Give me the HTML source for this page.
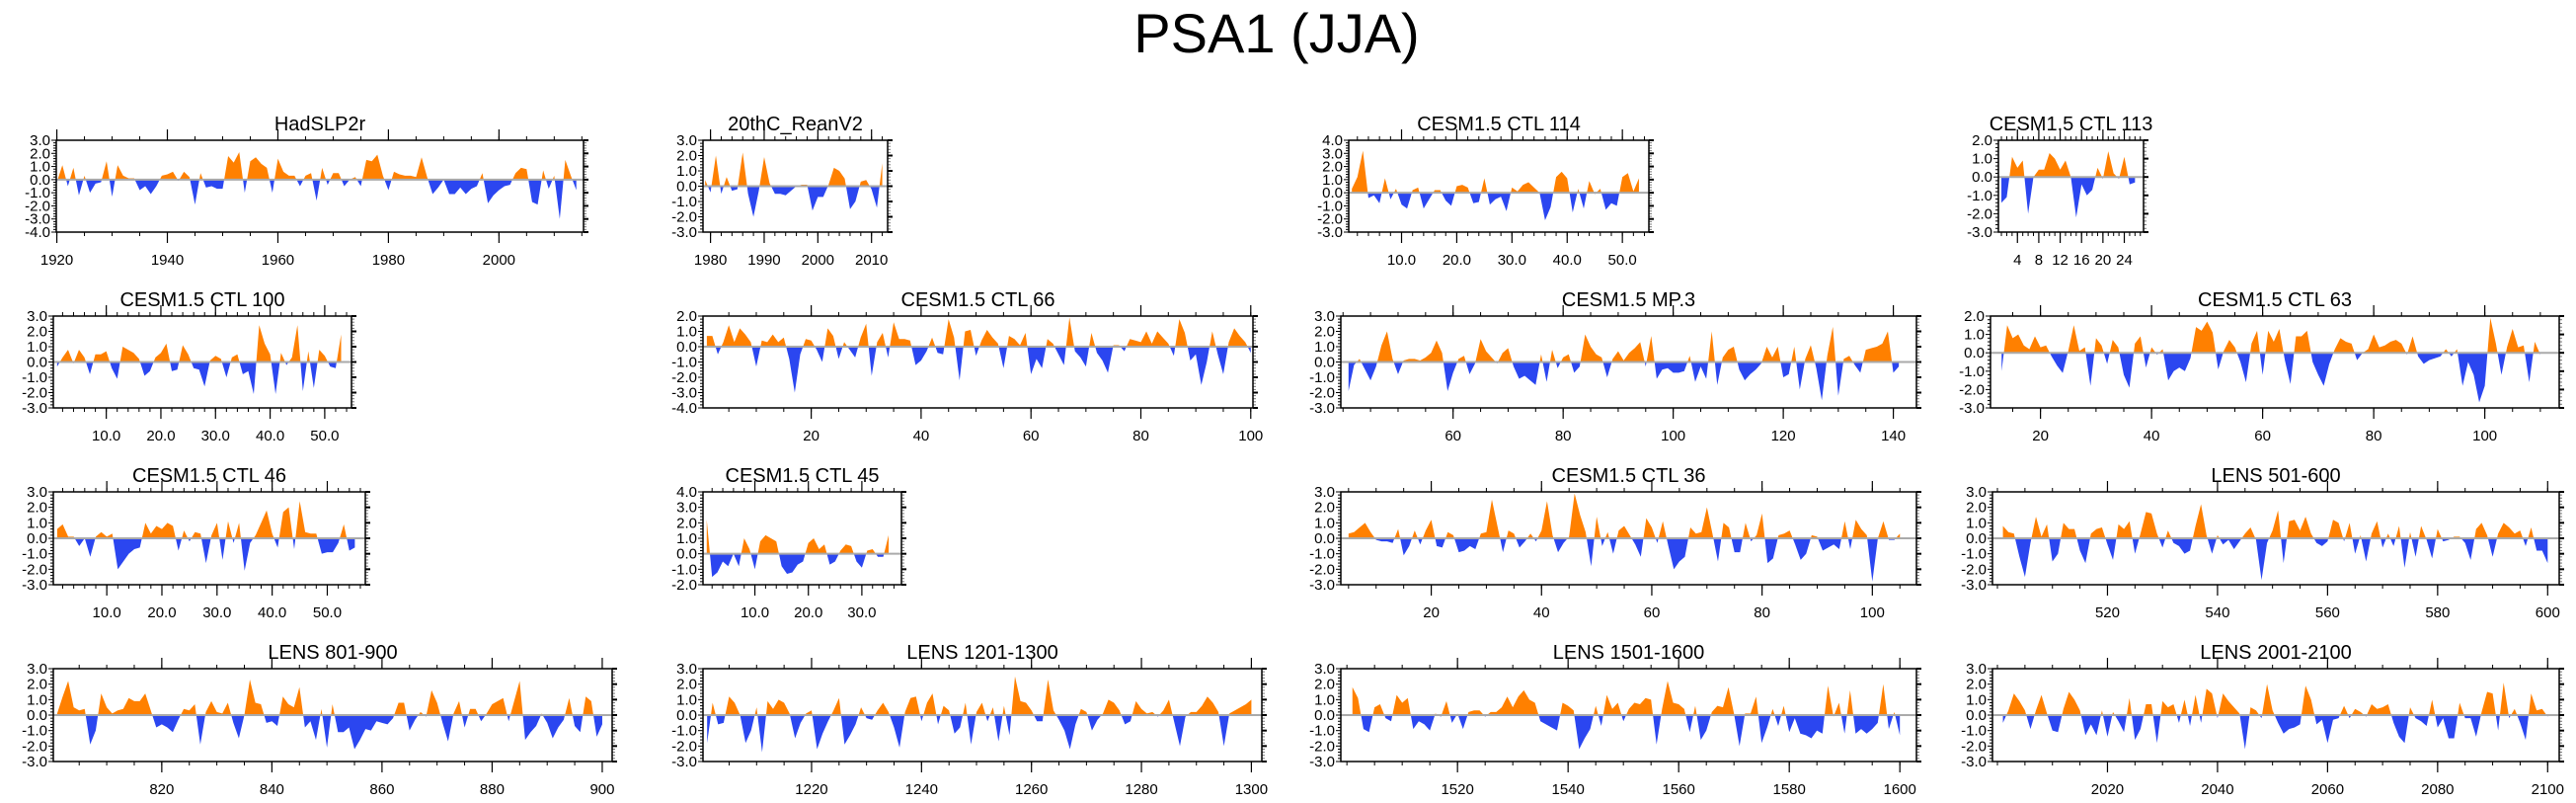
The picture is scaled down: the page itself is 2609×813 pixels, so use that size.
<!DOCTYPE html>
<html><head><meta charset="utf-8"><title>PSA1 (JJA)</title>
<style>
html,body{margin:0;padding:0;background:#fff;}
svg{display:block;font-family:"Liberation Sans",Arial,sans-serif;}
</style></head>
<body>
<svg id="chart" width="2609" height="813" viewBox="0 0 2609 813" xmlns="http://www.w3.org/2000/svg">
<rect x="0" y="0" width="2609" height="813" fill="#fff"/>
<text x="1293" y="53" font-size="56" text-anchor="middle" fill="#000">PSA1 (JJA)</text>
<g id="panels"></g>
</svg>
<script>
const hadslp2r = [-0.2,1.1,-0.5,0.9,-1.2,0.3,-1.0,-0.3,-0.2,1.4,-1.3,1.1,0.3,0.1,0.1,-0.8,-0.5,-1.1,-0.5,0.3,0.4,0.6,-0.1,0.6,0.2,-1.9,0.5,-0.6,-0.5,-0.7,-0.7,1.8,1.3,2.1,-1.0,1.4,1.7,1.2,0.9,-1.0,1.6,0.6,0.3,0.3,-0.5,0.3,0.5,-1.6,0.9,-0.4,0.5,0.5,-0.5,0.0,0.2,-0.5,1.5,1.4,1.9,0.3,-0.8,0.6,0.4,0.3,0.3,0.2,1.7,0.2,-1.1,-0.6,0.0,-1.1,-1.1,-0.6,-1.1,-0.7,-0.5,0.5,-1.8,-1.2,-0.8,-0.5,-0.4,0.5,0.9,0.8,-1.7,-1.9,0.7,-0.7,0.3,-3.0,1.5,0.3,-0.8];
const reanv2 = [0.4,-0.4,2.0,-0.5,0.6,-0.3,-0.2,2.2,-0.5,-2.0,-0.3,1.9,0.2,-0.5,-0.5,-0.6,-0.3,0.0,0.1,0.1,-1.6,-0.7,-0.7,0.1,1.2,1.0,0.5,-1.5,-1.0,0.3,0.4,-0.2,-1.4,1.5];
const ctl114 = [0.3,1.2,3.2,-0.4,-0.2,-0.8,1.1,-0.5,0.3,-0.9,-1.2,0.2,0.4,-1.2,-0.5,0.2,0.2,-0.6,-1.0,0.5,0.6,0.4,-0.8,-0.7,1.1,-0.9,-0.5,-0.3,-1.4,0.4,0.1,0.6,0.8,0.4,0.0,-2.1,-1.1,1.2,1.6,1.1,-1.5,0.3,-1.2,0.9,-0.1,0.3,-1.3,-0.8,-1.0,1.2,1.5,0.1,1.1];
const ctl113 = [-1.4,-1.1,1.1,0.5,0.9,-2.0,0.0,0.4,0.4,1.3,1.0,0.4,0.9,0.0,-2.2,-0.4,-1.0,-0.7,0.5,-0.1,1.4,0.2,-0.1,1.1,-0.4,-0.3];
const ctl100 = [-0.3,0.3,0.8,-0.1,0.8,0.3,-0.8,0.5,0.5,0.7,-0.4,-1.1,1.0,0.8,0.6,0.2,-0.9,-0.6,0.3,0.6,1.2,-0.6,-0.5,1.1,0.5,-0.4,-0.5,-1.6,0.1,0.4,0.2,-1.0,0.3,0.5,-0.8,-0.6,-2.1,2.4,1.2,0.5,-2.1,0.6,-0.2,0.3,2.4,-1.9,0.7,-1.7,0.8,0.4,-0.3,-0.4,1.8];
const ctl66 = [0.7,0.7,-0.5,0.3,1.4,0.3,1.2,0.8,0.3,-1.3,0.4,0.3,0.8,0.3,0.6,-0.8,-3.0,-0.5,0.5,0.4,-0.2,-1.0,1.2,0.7,-0.8,0.3,-0.2,-0.7,0.6,1.5,-1.9,0.3,0.9,-0.7,1.6,0.5,0.5,0.4,-1.2,-0.9,-0.3,0.6,-0.4,-0.5,1.8,0.6,-2.2,1.0,1.1,-0.6,0.4,1.1,0.6,0.2,-1.4,0.7,0.5,0.1,0.9,-1.8,-0.8,-1.4,0.5,0.2,-0.5,-1.2,1.9,-0.3,-0.7,-1.3,0.9,-0.4,-0.9,-1.7,0.1,0.1,-0.3,0.5,0.4,0.3,1.0,0.2,1.0,0.6,0.2,-0.6,1.8,0.9,-0.9,-0.5,-2.5,-1.0,1.0,-0.5,-1.8,0.3,1.2,0.7,0.3,-0.4];
const mp3 = [-1.9,-0.2,0.2,-0.5,-1.2,-0.3,1.1,2.0,0.2,-0.8,0.1,0.2,0.2,0.1,0.3,0.6,1.4,0.6,-1.9,-0.7,0.2,0.4,-0.8,-0.1,1.5,0.7,0.3,-0.1,0.6,0.9,-0.3,-1.1,-0.9,-1.2,-1.5,0.5,-1.3,0.8,-0.4,0.3,0.5,-0.7,-0.3,1.8,1.0,0.5,0.3,-1.0,0.2,0.7,0.1,0.6,0.9,1.3,-0.3,1.7,-1.1,-0.5,-0.4,-0.7,-0.7,-0.6,0.4,-1.3,-0.3,-1.1,2.0,-1.5,0.3,0.8,1.0,-0.5,-1.2,-0.8,-0.5,-0.1,1.0,0.3,1.0,-1.0,-0.8,1.0,-1.8,0.2,1.1,-0.4,-2.5,0.4,2.3,-2.2,0.2,0.4,-0.2,-0.7,0.8,0.9,1.0,1.2,2.0,-0.7,-0.3];
const ctl63 = [-1.0,1.5,0.8,1.0,0.4,0.2,0.9,0.3,0.4,-0.2,-0.7,-1.1,0.1,1.5,0.1,0.3,-1.8,0.8,0.4,-0.6,0.7,0.3,-1.2,-1.9,0.5,0.9,-0.8,0.3,-0.1,0.2,-1.5,-1.0,-0.8,-1.0,-0.3,1.4,1.2,1.7,1.1,-0.9,0.1,0.7,0.3,-0.5,-1.6,0.5,1.2,-1.2,1.2,0.6,1.3,-0.4,-1.7,0.9,0.9,1.2,-0.5,-1.2,-1.8,-0.6,0.2,0.8,0.6,0.5,-0.4,0.0,0.2,1.0,0.3,0.4,0.6,0.7,0.5,-0.1,0.9,-0.2,-0.6,-0.4,-0.3,-0.2,0.2,-0.2,0.2,-1.8,-0.5,-1.2,-2.7,-1.8,1.9,0.5,-1.2,0.3,1.3,0.3,0.4,-1.6,0.6,-0.1];
const ctl46 = [0.6,0.9,0.1,0.1,-0.5,0.0,-1.2,0.1,0.4,0.1,0.3,-2.0,-1.5,-1.0,-0.7,-0.6,1.0,0.3,0.8,0.6,1.0,0.8,-0.8,0.5,-0.2,0.4,0.3,-1.6,0.2,1.0,-1.4,1.1,-0.3,1.0,-2.1,-0.3,0.2,1.0,1.8,0.3,-0.6,1.7,2.0,-0.7,2.4,0.4,0.3,0.3,-1.0,-0.9,-0.9,-0.3,0.9,-0.8,-0.6];
const ctl45 = [2.2,-1.5,-1.2,-0.5,-0.8,0.0,-0.8,1.0,0.3,-1.0,0.8,1.2,1.0,0.8,-0.8,-1.3,-1.2,-0.7,-0.5,0.7,1.0,0.3,0.6,-0.7,-0.5,0.2,0.6,0.5,-0.5,-0.9,0.2,0.3,-0.2,-0.2,1.2];
const ctl36 = [0.3,0.4,0.7,1.0,0.4,-0.1,-0.2,-0.2,-0.3,0.6,-1.1,-0.5,0.5,-0.4,0.5,1.2,-0.5,-0.6,0.4,0.2,-0.9,-0.8,-0.5,-0.7,0.3,0.4,2.5,0.8,-0.9,0.5,0.3,-0.6,-0.2,0.3,-0.2,0.5,2.4,0.2,-0.9,-0.3,0.1,2.9,1.5,0.4,-1.8,1.4,-0.5,0.4,-1.0,0.5,0.8,0.2,-0.4,-1.2,1.3,0.7,-0.3,1.1,-0.5,-2.0,-1.5,-1.2,0.7,0.3,0.4,2.0,0.3,-1.5,1.0,0.7,-0.9,-0.9,1.0,-0.2,0.2,1.6,-1.6,-1.3,0.2,0.3,0.5,-0.4,-1.4,-1.0,0.2,0.1,-0.8,-0.6,-0.4,-0.7,1.1,-0.7,1.2,0.6,0.2,-2.8,0.0,1.1,-0.1,-0.1,0.3];
const lens501 = [0.8,0.4,0.3,-1.2,-2.5,-0.3,1.4,0.1,0.9,-1.5,-1.0,1.0,0.6,0.6,-0.8,-1.6,0.3,0.6,0.7,-0.4,-1.4,0.9,0.6,1.1,-1.0,0.3,1.7,1.6,0.3,-0.6,0.5,-0.3,-0.5,-1.0,-0.8,0.8,2.2,0.2,-1.0,0.2,-0.4,-0.1,-0.7,-0.2,0.3,0.7,-0.1,-2.7,-0.3,0.5,1.8,-1.6,1.1,1.2,0.5,1.4,0.3,-0.3,-0.5,-0.2,1.2,1.0,-0.2,1.0,-1.0,0.2,-1.5,0.3,1.1,-0.6,0.3,-0.5,0.8,-1.9,0.4,-1.2,0.8,-0.1,-1.3,0.6,-0.2,-0.1,0.1,0.1,-0.3,-1.4,0.6,1.0,0.2,-1.2,0.3,1.0,0.7,0.3,0.5,-0.5,0.7,-0.8,-0.8,-1.6];
const lens801 = [0.1,1.2,2.2,0.5,0.3,0.4,-1.9,-1.0,1.4,0.5,0.1,0.3,0.4,1.1,0.9,0.9,1.4,0.3,-0.8,-0.6,-0.8,-1.1,-0.3,0.4,0.3,0.7,-1.9,0.2,0.9,0.2,0.1,0.8,-0.5,-1.5,0.0,2.3,0.8,0.7,-0.5,-0.4,-0.7,1.2,0.7,0.5,1.8,-0.8,-0.4,-1.6,0.4,-2.1,0.7,-1.1,-1.1,-0.8,-2.2,-1.6,-0.9,-1.0,-0.4,-0.5,-0.6,-0.2,0.8,0.8,-1.0,-0.3,0.2,-0.1,1.6,0.8,-0.5,-1.7,0.1,0.9,-0.8,0.4,0.4,-0.4,0.1,0.7,0.9,1.1,-0.4,0.9,2.2,-1.6,-1.1,-0.7,0.1,-0.5,-1.5,-0.8,-0.3,1.1,-0.7,-1.1,1.2,0.9,-1.4,-0.6];
const lens1201 = [-1.8,0.8,-0.6,-0.5,1.2,0.8,0.0,-1.8,-1.0,0.5,-2.4,0.9,0.4,1.0,0.8,0.1,-1.5,-0.5,0.1,0.3,-2.2,-1.2,-0.4,0.3,1.1,-1.9,-1.3,-0.6,0.5,-0.2,-0.3,0.3,0.8,0.2,-0.8,-2.1,0.2,1.1,1.2,-0.4,0.8,1.4,-0.6,0.6,0.3,-1.2,-0.8,0.8,-1.9,0.2,0.8,-0.4,0.5,-1.7,0.6,-1.3,2.5,0.9,0.8,0.3,-0.4,-0.4,2.3,0.3,-0.3,-1.0,-2.2,-0.6,0.4,0.2,-1.0,-0.3,0.1,1.0,0.8,0.3,-0.6,-0.4,0.9,0.4,0.1,0.2,-0.1,0.3,1.0,-0.5,-2.0,-0.1,0.2,0.2,0.6,1.2,0.8,0.2,-2.0,0.1,0.3,0.5,0.7,1.0];
const lens1501 = [1.8,1.1,-0.9,-1.1,0.5,0.7,-0.2,-0.4,1.3,0.8,1.1,-0.9,-0.4,-0.6,-1.0,0.1,-0.1,0.9,-0.5,0.1,-0.9,0.2,0.3,0.3,-0.1,0.2,0.2,0.5,1.2,0.5,1.2,1.6,1.0,0.8,-0.4,-0.6,-0.8,-1.0,0.8,0.6,0.3,-2.2,-1.5,-0.9,0.6,-0.7,1.3,0.4,0.8,-0.4,0.4,0.8,0.7,1.1,1.0,-1.9,0.4,2.2,0.8,0.7,0.4,-1.1,0.6,-1.6,-1.0,0.2,0.6,0.5,1.8,0.1,-2.0,0.1,0.1,1.2,-1.8,-0.8,0.4,-0.7,0.6,-1.1,-0.2,-1.2,-1.3,-1.5,-1.0,-1.2,1.9,-0.1,0.8,-1.2,1.6,-1.2,-0.9,-1.2,-0.9,-0.5,2.0,-0.9,0.2,-1.3];
const lens2001 = [-0.5,0.3,1.4,0.9,0.3,-0.9,0.3,1.3,0.1,-1.0,-1.1,0.4,1.5,1.0,0.3,-1.3,-0.6,-1.3,0.3,-1.4,0.2,-0.4,-1.1,1.1,-1.6,-0.9,0.7,0.7,-1.8,0.9,0.5,0.7,-0.5,1.0,-0.7,1.3,-0.5,1.7,1.4,-0.2,1.4,0.9,0.5,0.1,-2.2,0.5,0.3,-0.2,2.0,0.3,-0.5,-1.2,-0.9,-0.8,-0.6,1.9,1.0,-0.6,-0.3,-1.8,-0.3,-0.2,0.6,-0.2,0.4,0.2,-0.1,0.7,0.4,0.5,0.7,-0.5,-1.4,-1.8,0.5,-0.2,-0.4,-0.7,1.0,-0.8,-0.2,-1.5,-1.5,0.8,-0.2,-0.2,-1.4,0.2,1.5,1.4,-1.0,2.1,-0.2,0.4,-0.5,-1.6,1.4,0.3,0.4,-0.1];

const panelTitles = ["HadSLP2r","20thC_ReanV2","CESM1.5 CTL 114","CESM1.5 CTL 113","CESM1.5 CTL 100","CESM1.5 CTL 66","CESM1.5 MP.3","CESM1.5 CTL 63","CESM1.5 CTL 46","CESM1.5 CTL 45","CESM1.5 CTL 36","LENS 501-600","LENS 801-900","LENS 1201-1300","LENS 1501-1600","LENS 2001-2100"];
const seriesStart = [1920,1979,1,1,1,1,41,13,1,1,5,501,801,1201,1501,2001];
const yRanges = [[-4,3],[-3,3],[-3,4],[-3,2],[-3,3],[-4,2],[-3,3],[-3,2],[-3,3],[-2,4],[-3,3],[-3,3],[-3,3],[-3,3],[-3,3],[-3,3]];
const xDomains = [[1919.9,2015.3],[1978.6,2013],[0.43,54.8],[0.44,27.6],[0.3,54.9],[0.3,100.4],[39.6,144.2],[11,113.4],[0.3,56.9],[0.3,37.4],[3.6,108],[499.1,602.1],[800.3,901.8],[1200.25,1301.9],[1498.9,1603],[1999.1,2102.1]];
const xTickLabels = [
 [1920,1940,1960,1980,2000],[1980,1990,2000,2010],[10,20,30,40,50],[4,8,12,16,20,24],
 [10,20,30,40,50],[20,40,60,80,100],[60,80,100,120,140],[20,40,60,80,100],
 [10,20,30,40,50],[10,20,30],[20,40,60,80,100],[520,540,560,580,600],
 [820,840,860,880,900],[1220,1240,1260,1280,1300],[1520,1540,1560,1580,1600],[2020,2040,2060,2080,2100]];
const xMinorStep = [5,2,2,1,2,5,5,5,2,2,5,5,5,5,5,5];
const xDecimal = [false,false,true,false,true,false,false,false,true,true,false,false,false,false,false,false];
const allSeries = [hadslp2r,reanv2,ctl114,ctl113,ctl100,ctl66,mp3,ctl63,ctl46,ctl45,ctl36,lens501,lens801,lens1201,lens1501,lens2001];

// layout (pixels)
const boxes = [[57,591,142,235],[712,899,142,235],[1366,1670,142,235],[2024,2171,142,235],
 [54,356,320,413],[712,1269,320,413],[1358,1941,320,413],[2016,2592,320,413],
 [54,370,498,592],[712,913,498,592],[1358,1941,498,592],[2018,2592,498,592],
 [54,620,677,771],[712,1278,677,771],[1358,1941,677,771],[2018,2592,677,771]];

const NS = "http://www.w3.org/2000/svg";
const root = document.getElementById('panels');
function mk(tag, attrs, parent){const e=document.createElementNS(NS,tag);for(const k in attrs)e.setAttribute(k,attrs[k]);parent.appendChild(e);return e;}

for (let p=0;p<16;p++){
  const [L,R,T,B]=boxes[p];
  const [d0,d1]=xDomains[p];
  const [ymin,ymax]=yRanges[p];
  const xs = v => L + (v-d0)/(d1-d0)*(R-L);
  const ys = v => B - (v-ymin)/(ymax-ymin)*(B-T);
  const g = mk('g',{},root);
  
  
  const y0 = ys(0);
  const clipA = mk('clipPath',{id:'ca'+p},g);
  mk('rect',{x:L,y:T,width:R-L,height:y0-T},clipA);
  const clipB = mk('clipPath',{id:'cb'+p},g);
  mk('rect',{x:L,y:y0,width:R-L,height:B-y0},clipB);
  const vals = allSeries[p];
  let pts = [];
  const st = seriesStart[p];
  pts.push(xs(st).toFixed(2)+','+y0.toFixed(2));
  for(let i=0;i<vals.length;i++) pts.push(xs(st+i).toFixed(2)+','+ys(vals[i]).toFixed(2));
  pts.push(xs(st+vals.length-1).toFixed(2)+','+y0.toFixed(2));
  const pa = mk('polygon',{points:pts.join(' '),fill:'#FF8000','clip-path':'url(#ca'+p+')'},g);
  
  
  const pb = mk('polygon',{points:pts.join(' '),fill:'#2B46F0','clip-path':'url(#cb'+p+')'},g);
  
  
  const zl = mk('line',{x1:L,x2:R,y1:y0,y2:y0,stroke:'#aaaaaa','stroke-width':2},g);
  
  
  // y ticks
  for(let v=ymin; v<=ymax+1e-9; v+=0.2){
    const yy=ys(v); const major=Math.abs(v-Math.round(v))<1e-6;
    const len=major?5:3;
    mk('line',{x1:L-len,x2:L,y1:yy,y2:yy,stroke:'#000','stroke-width':1},g);
    mk('line',{x1:R,x2:R+len,y1:yy,y2:yy,stroke:major?'#000':'#777','stroke-width':major?2:1},g);
  }
  for(let v=ymin; v<=ymax; v++){
    const t=mk('text',{x:L-6,y:ys(v)+5,'font-size':15,'text-anchor':'end',fill:'#000'},g);
    t.textContent=v.toFixed(1);
    
    
  }
  // x ticks
  const ms=xMinorStep[p];
  for(let v=Math.ceil(d0/ms)*ms; v<=d1; v+=ms){
    const xx=xs(v);
    mk('line',{x1:xx,x2:xx,y1:T-4,y2:T,stroke:'#000','stroke-width':1},g);
    mk('line',{x1:xx,x2:xx,y1:B,y2:B+4,stroke:'#000','stroke-width':1},g);
  }
  const labs = xTickLabels[p];
  for(const v of labs){
    const xx=xs(v);
    mk('line',{x1:xx,x2:xx,y1:T-11,y2:T,stroke:'#000','stroke-width':1.2},g);
    mk('line',{x1:xx,x2:xx,y1:B,y2:B+11,stroke:'#000','stroke-width':1.2},g);
    const t=mk('text',{x:xx,y:B+33,'font-size':15,'text-anchor':'middle',fill:'#000'},g);
    t.textContent = xDecimal[p] ? v.toFixed(1) : String(v);
    
    
  }
  const box = mk('rect',{x:L,y:T,width:R-L,height:B-T,fill:'none',stroke:'#000','stroke-width':1.5},g);
  
  
  const tt = mk('text',{x:(L+R)/2,y:T-10,'font-size':20,'text-anchor':'middle',fill:'#000'},g);
  tt.textContent = panelTitles[p];
  
  
}
</script>
</body></html>
